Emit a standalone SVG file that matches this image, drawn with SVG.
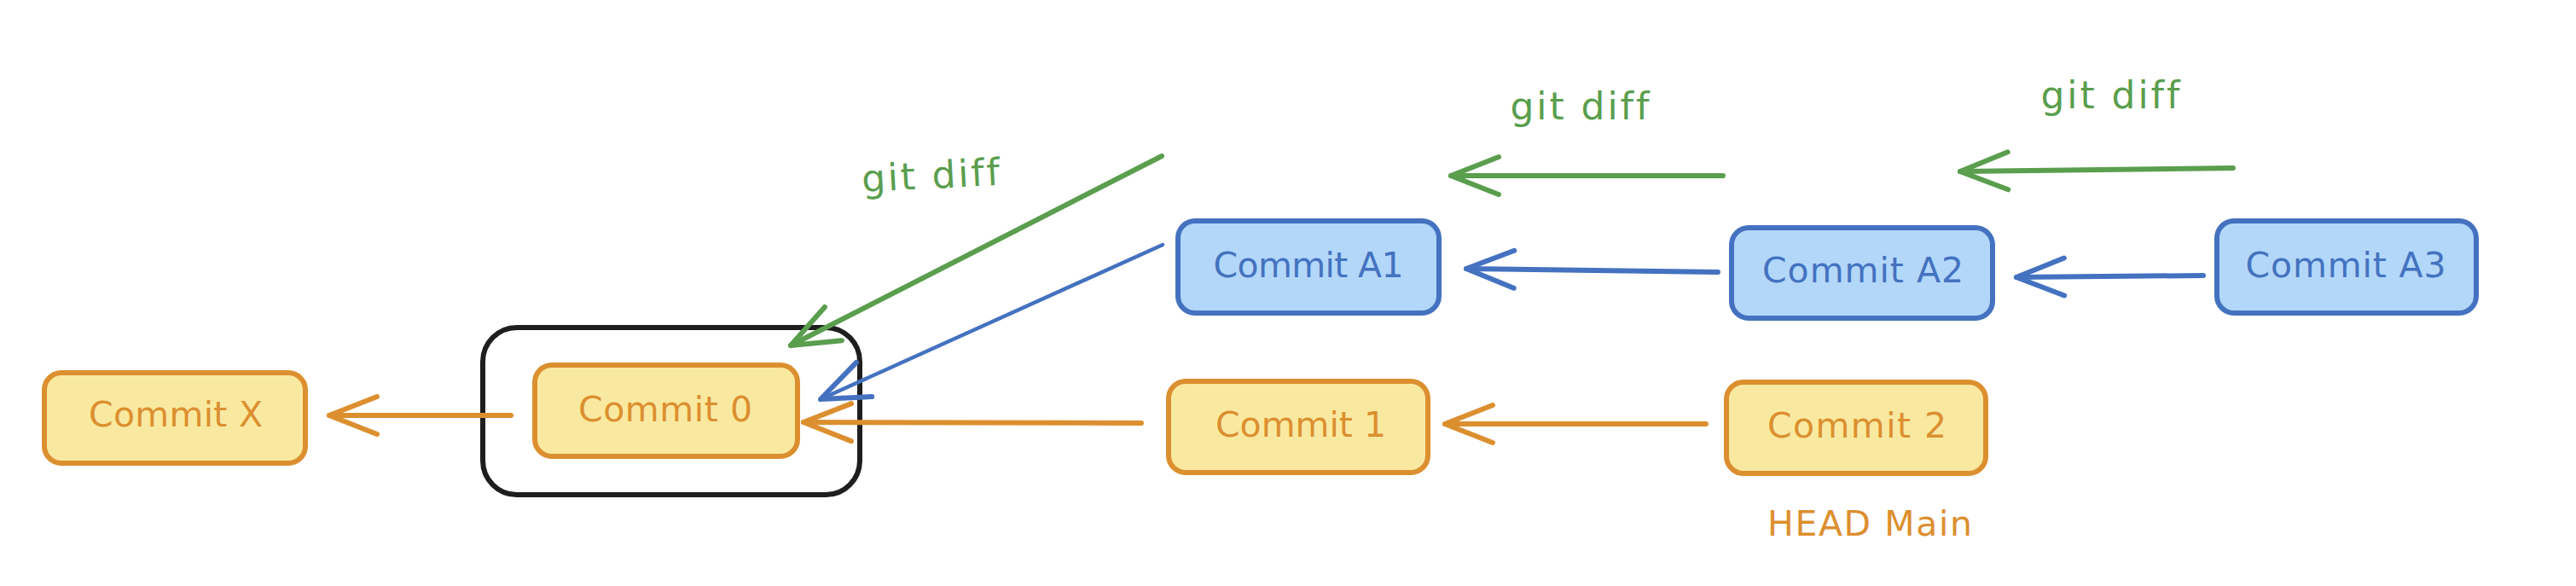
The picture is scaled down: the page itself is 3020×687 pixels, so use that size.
<svg xmlns="http://www.w3.org/2000/svg" width="3020" height="687" viewBox="0 0 3020 687">
  <style>
    .y rect { fill: #f9e9a0; stroke: #dc8f2f; stroke-width: 6; }
    .b rect { fill: #b3d7f9; stroke: #4472c0; stroke-width: 6; }
    .t { font-family: "DejaVu Sans", "Liberation Sans", sans-serif; font-size: 41px; text-anchor: middle; font-variant-ligatures: none; }
    .g { font-size: 44px; }
    .y .t, .lo { fill: #dc8f2f; }
    .b .t { fill: #4472c0; }
    .lg { fill: #5a9e4e; }
    .c { fill: none; stroke-width: 6; stroke-linecap: round; stroke-linejoin: round; }
    .co { stroke: #dc8f2f; marker-end: url(#ao); }
    .cb { stroke: #4472c0; marker-end: url(#ab); }
    .cg { stroke: #5a9e4e; marker-end: url(#ag); }
  </style>
  <defs>
    <marker id="ao" markerUnits="userSpaceOnUse" viewBox="-64 -30 72 60" refX="0" refY="0" markerWidth="72" markerHeight="60" orient="auto">
      <path d="M -56 -22 L 0 0 L -56 22" fill="none" stroke="#dc8f2f" stroke-width="6" stroke-linecap="round" stroke-linejoin="round"/>
    </marker>
    <marker id="ab" markerUnits="userSpaceOnUse" viewBox="-64 -30 72 60" refX="0" refY="0" markerWidth="72" markerHeight="60" orient="auto">
      <path d="M -56 -22 L 0 0 L -56 22" fill="none" stroke="#4472c0" stroke-width="6" stroke-linecap="round" stroke-linejoin="round"/>
    </marker>
    <marker id="ag" markerUnits="userSpaceOnUse" viewBox="-64 -30 72 60" refX="0" refY="0" markerWidth="72" markerHeight="60" orient="auto">
      <path d="M -56 -22 L 0 0 L -56 22" fill="none" stroke="#5a9e4e" stroke-width="6" stroke-linecap="round" stroke-linejoin="round"/>
    </marker>
  </defs>
  <rect width="3020" height="687" fill="#ffffff"/>

  <g id="group-frame">
    <rect x="566" y="384" width="442" height="196" rx="40" fill="none" stroke="#1e1e1e" stroke-width="6"/>
  </g>

  <g id="connectors">
    <path class="c co" d="M 599 487 L 386 487"/>
    <path class="c co" d="M 1338 496 L 942 495"/>
    <path class="c co" d="M 2000 497 L 1694 497"/>
    <path class="c cb" d="M 1363 287 L 962 468" style="stroke-width:4.5"/>
    <path class="c cb" d="M 2014 319 L 1719 315"/>
    <path class="c cb" d="M 2583 323 L 2364 325"/>
    <path class="c cg" d="M 1362 183 L 927 405"/>
    <path class="c cg" d="M 2020 206 L 1701 206"/>
    <path class="c cg" d="M 2618 197 L 2298 201"/>
  </g>

  <g id="labels">
    <text class="t g lg" x="1091" y="221" textLength="162" lengthAdjust="spacing" transform="rotate(-3 1091 205)">git diff</text>
    <text class="t g lg" x="1852" y="140" textLength="163" lengthAdjust="spacing">git diff</text>
    <text class="t g lg" x="2474" y="127" textLength="163" lengthAdjust="spacing">git diff</text>
  </g>

  <g id="commit-x" class="y">
    <rect x="52" y="437" width="306" height="106" rx="20"/>
    <text class="t" x="206" y="500" textLength="204" lengthAdjust="spacing">Commit X</text>
  </g>
  <g id="commit-0" class="y">
    <rect x="627" y="428" width="308" height="107" rx="20"/>
    <text class="t" x="780" y="494" textLength="204" lengthAdjust="spacing">Commit 0</text>
  </g>
  <g id="commit-1" class="y">
    <rect x="1370" y="447" width="304" height="107" rx="20"/>
    <text class="t" x="1525" y="512" textLength="200" lengthAdjust="spacing">Commit 1</text>
  </g>
  <g id="commit-2" class="y">
    <rect x="2024" y="448" width="304" height="107" rx="20"/>
    <text class="t" x="2177" y="513" textLength="210" lengthAdjust="spacing">Commit 2</text>
  </g>
  <g id="head-main">
    <text class="t lo" x="2192" y="628" textLength="240" lengthAdjust="spacing">HEAD Main</text>
  </g>
  <g id="commit-a1" class="b">
    <rect x="1381" y="259" width="306" height="108" rx="20"/>
    <text class="t" x="1534" y="325" textLength="223" lengthAdjust="spacing">Commit A1</text>
  </g>
  <g id="commit-a2" class="b">
    <rect x="2030" y="267" width="306" height="106" rx="20"/>
    <text class="t" x="2184" y="331" textLength="236" lengthAdjust="spacing">Commit A2</text>
  </g>
  <g id="commit-a3" class="b">
    <rect x="2599" y="259" width="304" height="108" rx="20"/>
    <text class="t" x="2750" y="325" textLength="235" lengthAdjust="spacing">Commit A3</text>
  </g>
</svg>
